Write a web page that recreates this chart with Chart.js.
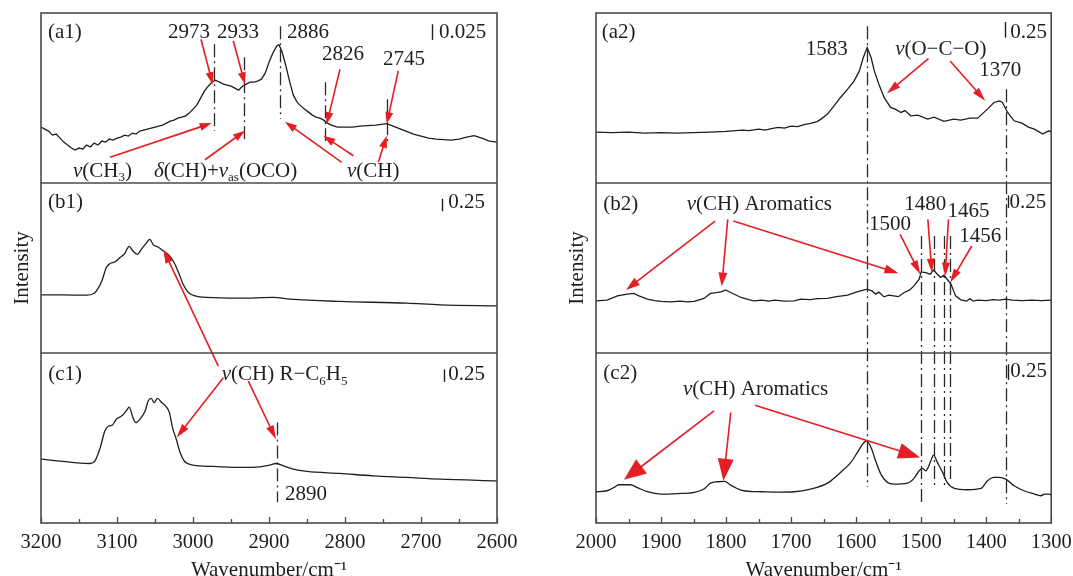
<!DOCTYPE html>
<html>
<head>
<meta charset="utf-8">
<script src="https://cdn.jsdelivr.net/npm/chart.js@4.4.0/dist/chart.umd.min.js"></script>
<style>
  html, body { margin: 0; padding: 0; background: #fff; overflow: hidden; }
  #wrap { position: relative; width: 1073px; height: 576px; overflow: hidden; }
  canvas { position: absolute; top: 0; }
</style>
</head>
<body>
<div id="wrap">
  <canvas id="leftPlot" width="530" height="576" style="left:0"></canvas>
  <canvas id="rightPlot" width="551" height="576" style="left:530px"></canvas>
</div>
<script>
// ---- C-H stretching region (left column) ----
const a1Wn = [3200,3195,3190,3185,3180,3175,3170,3165,3160,3155,3150,3145,3140,3135,3130,3125,3120,3115,3110,3105,3100,3095,3090,3085,3080,3075,3070,3065,3060,3055,3050,3045,3040,3035,3030,3025,3020,3015,3010,3005,3000,2995,2990,2985,2980,2975,2971,2965,2960,2955,2950,2945,2940,2935,2930,2925,2920,2915,2910,2905,2900,2895,2890,2887,2883,2878,2873,2868,2863,2858,2853,2848,2843,2838,2833,2828,2823,2818,2810,2800,2790,2780,2770,2760,2750,2745,2740,2730,2720,2710,2700,2690,2680,2670,2660,2650,2640,2630,2620,2610,2600];
const a1Int = [0.0896,0.0864,0.0832,0.0768,0.0784,0.0720,0.0656,0.0608,0.0560,0.0528,0.0560,0.0544,0.0608,0.0576,0.0640,0.0608,0.0672,0.0656,0.0704,0.0688,0.0720,0.0736,0.0768,0.0752,0.0800,0.0784,0.0832,0.0848,0.0864,0.0880,0.0896,0.0912,0.0928,0.0960,0.0992,0.1008,0.1040,0.1056,0.1072,0.1120,0.1184,0.1248,0.1360,0.1472,0.1552,0.1616,0.1648,0.1616,0.1584,0.1568,0.1552,0.1520,0.1488,0.1552,0.1584,0.1616,0.1616,0.1632,0.1664,0.1760,0.1936,0.2080,0.2192,0.2216,0.2112,0.1888,0.1632,0.1408,0.1296,0.1232,0.1184,0.1136,0.1088,0.1056,0.1040,0.1008,0.0960,0.0928,0.0896,0.0896,0.0896,0.0912,0.0920,0.0928,0.0944,0.0952,0.0928,0.0880,0.0832,0.0784,0.0752,0.0720,0.0704,0.0696,0.0688,0.0704,0.0736,0.0760,0.0720,0.0672,0.0656];

const b1Wn = [3200,3170,3140,3130,3127,3120,3114,3109,3103,3096,3090,3084,3079,3073,3068,3061,3057,3052,3046,3039,3033,3026,3019,3013,3006,2997,2982,2938,2894,2872,2807,2719,2675,2600];
const b1Int = [1.166,1.164,1.160,1.200,1.246,1.446,1.714,1.794,1.826,1.914,1.994,2.140,2.046,1.980,2.080,2.214,2.280,2.166,2.126,2.046,1.980,1.846,1.614,1.380,1.214,1.146,1.114,1.100,1.114,1.080,1.034,1.000,0.966,0.946];

const c1Wn = [3200,3135,3129,3122,3116,3111,3106,3101,3094,3088,3084,3079,3075,3070,3063,3059,3055,3051,3047,3041,3036,3031,3027,3022,3017,3011,3000,2973,2938,2912,2899,2891,2881,2868,2850,2807,2763,2719,2675,2600];
const c1Int = [1.280,1.194,1.246,1.514,1.846,1.946,1.966,2.080,2.146,2.246,2.326,2.114,2.014,2.080,2.246,2.446,2.500,2.414,2.500,2.414,2.346,2.214,1.914,1.680,1.414,1.234,1.160,1.134,1.114,1.126,1.160,1.194,1.146,1.080,1.034,0.994,0.946,0.914,0.880,0.846];

// ---- 2000-1300 cm-1 region (right column) ----
const a2Wn = [2000,1975,1950,1925,1900,1875,1850,1825,1800,1785,1775,1765,1750,1740,1730,1720,1710,1700,1690,1680,1670,1660,1654,1644,1634,1624,1613,1603,1595,1589,1583,1577,1572,1565,1557,1547,1540,1531,1525,1516,1505,1490,1480,1465,1450,1439,1425,1413,1398,1388,1380,1375,1367,1357,1345,1335,1326,1318,1313,1308,1303,1300];
const a2Int = [0.816,0.808,0.816,0.800,0.808,0.800,0.808,0.816,0.827,0.840,0.848,0.840,0.864,0.848,0.872,0.891,0.880,0.912,0.904,0.936,0.955,0.984,1.024,1.104,1.237,1.371,1.504,1.637,1.797,2.011,2.171,2.011,1.797,1.584,1.371,1.211,1.184,1.131,1.160,1.077,1.088,1.024,1.056,0.987,1.024,1.008,1.040,1.040,1.184,1.291,1.317,1.291,1.131,0.997,0.960,0.896,0.864,0.816,0.784,0.816,0.837,0.816];

const b2Wn = [2000,1983,1967,1952,1942,1934,1921,1910,1900,1885,1870,1860,1849,1834,1824,1815,1808,1801,1793,1777,1765,1757,1745,1735,1725,1710,1695,1685,1670,1660,1644,1630,1613,1600,1593,1583,1575,1570,1565,1557,1550,1542,1535,1526,1518,1511,1503,1500,1493,1486,1481,1475,1470,1465,1460,1454,1447,1439,1430,1425,1420,1413,1400,1390,1380,1370,1360,1345,1330,1315,1300];
const b2Int = [1.046,1.060,1.146,1.180,1.194,1.146,1.080,1.050,1.034,1.026,1.040,1.026,1.034,1.094,1.194,1.210,1.226,1.266,1.214,1.114,1.070,1.046,1.060,1.040,1.060,1.040,1.046,1.080,1.070,1.090,1.094,1.130,1.160,1.220,1.246,1.280,1.240,1.180,1.220,1.126,1.160,1.146,1.130,1.214,1.260,1.346,1.480,1.626,1.614,1.580,1.666,1.580,1.514,1.560,1.480,1.380,1.146,1.066,1.040,1.090,1.040,1.060,1.050,1.070,1.060,1.080,1.060,1.050,1.060,1.050,1.060];

const c2Wn = [2000,1983,1972,1965,1947,1937,1921,1900,1875,1849,1834,1824,1813,1802,1793,1777,1760,1747,1720,1695,1670,1644,1624,1608,1598,1590,1584,1577,1570,1562,1552,1542,1521,1511,1503,1498,1493,1485,1481,1475,1467,1460,1449,1429,1408,1398,1388,1380,1370,1357,1342,1326,1316,1310,1303,1300];
const c2Int = [0.501,0.517,0.571,0.613,0.613,0.571,0.501,0.464,0.472,0.491,0.544,0.640,0.661,0.667,0.608,0.528,0.504,0.501,0.496,0.501,0.544,0.640,0.811,0.971,1.131,1.264,1.317,1.211,0.997,0.784,0.651,0.624,0.640,0.715,0.837,0.875,0.837,0.997,1.088,0.971,0.811,0.651,0.555,0.533,0.555,0.677,0.731,0.731,0.704,0.597,0.517,0.464,0.437,0.464,0.464,0.448];

// panel y ranges (intensity units)
const leftRanges = { yA: 0.2725, yB: 3.41, yC: 3.41 };
const rightRanges = { yA: 2.725, yB: 3.41, yC: 2.725 };

// marker lines: [wavenumber, top axis, top value, bottom axis, bottom value]
const leftMarkers = [
  [2973, 'yA', 0.2224, 'yA', 0.0832],
  [2933, 'yA', 0.2016, 'yA', 0.0656],
  [2886, 'yA', 0.2512, 'yA', 0.1024],
  [2826, 'yA', 0.1616, 'yA', 0.0672],
  [2745, 'yA', 0.1344, 'yA', 0.0672],
  [2890, 'yC', 2.014, 'yC', 0.414]
];
const rightMarkers = [
  [1583, 'yA', 2.512, 'yC', 0.576],
  [1370, 'yA', 1.504, 'yC', 0.304],
  [1500, 'yB', 2.346, 'yC', 0.304],
  [1480, 'yB', 2.346, 'yC', 0.576],
  [1465, 'yB', 2.346, 'yC', 0.576],
  [1456, 'yB', 2.346, 'yC', 0.704]
];

// scale bars: [axis, wavenumber, top value, length]
const leftBars = [['yA', 2685.9, 0.2544, 0.025], ['yB', 2672.8, 3.094, 0.25], ['yC', 2669.3, 3.08, 0.25]];
const rightBars = [['yA', 1371, 2.581, 0.25], ['yB', 1366.8, 3.16, 0.25], ['yC', 1366.7, 2.544, 0.25]];

// arrows: [from axis, wn, value, to axis, wn, value, head length, head width]
const leftArrows = [
  ['yA', 2989.5, 0.2304, 'yA', 2974.1, 0.1584, 12, 8],
  ['yA', 2947.0, 0.2277, 'yA', 2931.6, 0.1584, 12, 8],
  ['yA', 2806.6, 0.1824, 'yA', 2824.1, 0.0944, 12, 8],
  ['yA', 2729.9, 0.1797, 'yA', 2745.1, 0.0944, 12, 8],
  ['yA', 3109.2, 0.0411, 'yA', 2975.4, 0.0960, 12, 8],
  ['yA', 2984.2, 0.0373, 'yA', 2931.6, 0.0837, 12, 8],
  ['yA', 2804.3, 0.0331, 'yA', 2878.9, 0.0981, 12, 8],
  ['yA', 2789.0, 0.0437, 'yA', 2828.5, 0.0757, 12, 8],
  ['yA', 2756.2, 0.0331, 'yA', 2745.1, 0.0757, 12, 8],
  ['yC', 2966.7, 3.146, 'yB', 3039.2, 2.080, 14, 8],
  ['yC', 2960.1, 2.914, 'yC', 3021.5, 1.714, 14, 8],
  ['yC', 2927.2, 2.846, 'yC', 2890.8, 1.680, 14, 8]
];
const rightArrows = [
  ['yA', 1488.7, 1.995, 'yA', 1552.8, 1.435, 14, 8],
  ['yA', 1455.4, 1.957, 'yA', 1401.5, 1.317, 14, 8],
  ['yB', 1816.9, 2.646, 'yB', 1953.8, 1.266, 14, 9],
  ['yB', 1797.4, 2.680, 'yB', 1806.7, 1.334, 14, 9],
  ['yB', 1788.8, 2.646, 'yB', 1534.9, 1.600, 14, 9],
  ['yB', 1532.3, 2.380, 'yB', 1501.5, 1.580, 14, 8],
  ['yB', 1489.7, 2.680, 'yB', 1483.5, 1.614, 14, 8],
  ['yB', 1458.0, 2.680, 'yB', 1463.1, 1.534, 14, 8],
  ['yB', 1422.2, 2.146, 'yB', 1455.4, 1.414, 14, 8],
  ['yC', 1818.5, 1.797, 'yC', 1956.9, 0.693, 22, 18],
  ['yC', 1792.8, 1.771, 'yC', 1804.1, 0.677, 22, 16],
  ['yC', 1755.4, 1.888, 'yC', 1501.5, 1.051, 22, 16]
];

// labels: [axis, wn, value, parts, align]; part flag 'i' = italic, 's' = subscript
const leftLabels = [
  ['yA', 3190.8, 0.2416, [['(a1)']], 'left'],
  ['yA', 3005.3, 0.2416, [['2973']], 'center'],
  ['yA', 2940.8, 0.2416, [['2933']], 'center'],
  ['yA', 2876.3, 0.2416, [['2886']], 'left'],
  ['yA', 2802.6, 0.2064, [['2826']], 'center'],
  ['yA', 2722.4, 0.1984, [['2745']], 'center'],
  ['yA', 2676.3, 0.2416, [['0.025']], 'left'],
  ['yA', 3157.9, 0.0192, [['ν', 'i'], ['(CH'], ['3', 's'], [')']], 'left'],
  ['yA', 3051.3, 0.0192, [['δ', 'i'], ['(CH)+'], ['ν', 'i'], ['as', 's'], ['(OCO)']], 'left'],
  ['yA', 2797.4, 0.0192, [['ν', 'i'], ['(CH)']], 'left'],
  ['yB', 3190.8, 3.014, [['(b1)']], 'left'],
  ['yB', 2664.1, 3.014, [['0.25']], 'left'],
  ['yC', 3190.4, 2.980, [['(c1)']], 'left'],
  ['yC', 2962.2, 2.980, [['ν', 'i'], ['(CH) R−C'], ['6', 's'], ['H'], ['5', 's']], 'left'],
  ['yC', 2879.0, 0.580, [['2890']], 'left'],
  ['yC', 2664.1, 2.980, [['0.25']], 'left']
];
const rightLabels = [
  ['yA', 1991.3, 2.411, [['(a2)']], 'left'],
  ['yA', 1645.0, 2.144, [['1583']], 'center'],
  ['yA', 1540.0, 2.144, [['ν', 'i'], ['(O−C−O)']], 'left'],
  ['yA', 1378.5, 1.797, [['1370']], 'center'],
  ['yA', 1363.0, 2.411, [['0.25']], 'left'],
  ['yB', 1988.7, 2.980, [['(b2)']], 'left'],
  ['yB', 1860.5, 2.980, [['ν', 'i'], ['(CH) Aromatics']], 'left'],
  ['yB', 1547.7, 2.580, [['1500']], 'center'],
  ['yB', 1493.8, 2.980, [['1480']], 'center'],
  ['yB', 1427.2, 2.846, [['1465']], 'center'],
  ['yB', 1409.2, 2.346, [['1456']], 'center'],
  ['yB', 1364.2, 3.014, [['0.25']], 'left'],
  ['yC', 1988.7, 2.400, [['(c2)']], 'left'],
  ['yC', 1866.2, 2.144, [['ν', 'i'], ['(CH) Aromatics']], 'left'],
  ['yC', 1363.0, 2.421, [['0.25']], 'left']
];

const SERIF = "'Liberation Serif', 'Times New Roman', serif";
const INK = '#1e1e1e';
const RED = '#e31e24';

function richText(ctx, x, y, parts, align) {
  const fontOf = p => (p[1] === 'i' ? 'italic ' : '') + (p[1] === 's' ? 13 : 21) + 'px ' + SERIF;
  let w = 0;
  parts.forEach(p => { ctx.font = fontOf(p); w += ctx.measureText(p[0]).width; });
  let cx = align === 'center' ? x - w / 2 : x;
  ctx.textAlign = 'left';
  ctx.textBaseline = 'middle';
  parts.forEach(p => {
    ctx.font = fontOf(p);
    ctx.fillText(p[0], cx, y + (p[1] === 's' ? 7 : 0));
    cx += ctx.measureText(p[0]).width;
  });
}

function arrow(ctx, x1, y1, x2, y2, len, wid) {
  const a = Math.atan2(y2 - y1, x2 - x1);
  const bx = x2 - len * Math.cos(a), by = y2 - len * Math.sin(a);
  ctx.beginPath();
  ctx.moveTo(x1, y1);
  ctx.lineTo(bx + Math.cos(a), by + Math.sin(a));
  ctx.stroke();
  ctx.beginPath();
  ctx.moveTo(x2, y2);
  ctx.lineTo(bx + wid / 2 * Math.sin(a), by - wid / 2 * Math.cos(a));
  ctx.lineTo(bx - wid / 2 * Math.sin(a), by + wid / 2 * Math.cos(a));
  ctx.closePath();
  ctx.fill();
}

// frame, inward ticks and all the annotation layers
function notesPlugin(markers, bars, arrows, labels) {
  return {
    id: 'notes',
    afterDraw(chart) {
      const {ctx, chartArea: area, scales} = chart;
      const x = scales.x;
      const P = (axis, wn, v) => [x.getPixelForValue(wn), scales[axis].getPixelForValue(v)];
      ctx.save();

      // marker lines
      ctx.strokeStyle = '#2a2a2a';
      ctx.lineWidth = 1.3;
      ctx.setLineDash([13, 4, 2, 4]);
      markers.forEach(m => {
        const [xp, y1] = P(m[1], m[0], m[2]);
        const y2 = scales[m[3]].getPixelForValue(m[4]);
        ctx.beginPath();
        ctx.moveTo(Math.round(xp) + 0.5, y1);
        ctx.lineTo(Math.round(xp) + 0.5, y2);
        ctx.stroke();
      });
      ctx.setLineDash([]);

      // scale bars
      ctx.strokeStyle = INK;
      ctx.lineWidth = 1.4;
      bars.forEach(b => {
        const [xp, y1] = P(b[0], b[1], b[2]);
        const y2 = scales[b[0]].getPixelForValue(b[2] - b[3]);
        ctx.beginPath();
        ctx.moveTo(Math.round(xp) + 0.5, y1);
        ctx.lineTo(Math.round(xp) + 0.5, y2);
        ctx.stroke();
      });

      // arrows
      ctx.strokeStyle = RED;
      ctx.fillStyle = RED;
      ctx.lineWidth = 1.6;
      arrows.forEach(a => {
        const [x1, y1] = P(a[0], a[1], a[2]);
        const [x2, y2] = P(a[3], a[4], a[5]);
        arrow(ctx, x1, y1, x2, y2, a[6], a[7]);
      });

      // labels
      ctx.fillStyle = INK;
      labels.forEach(l => {
        const [xp, yp] = P(l[0], l[1], l[2]);
        richText(ctx, xp, yp, l[3], l[4]);
      });

      // panel frames
      ctx.strokeStyle = '#4a4a4a';
      ctx.lineWidth = 1.6;
      ctx.strokeRect(area.left, area.top, area.right - area.left, area.bottom - area.top);
      ['yA', 'yB'].forEach(id => {
        const yb = scales[id].bottom;
        ctx.beginPath();
        ctx.moveTo(area.left, yb);
        ctx.lineTo(area.right, yb);
        ctx.stroke();
      });

      // inward tick marks on the bottom axis
      ctx.lineWidth = 1.3;
      x.ticks.forEach(t => {
        const xp = Math.round(x.getPixelForValue(t.value)) + 0.5;
        const len = t.value % 100 === 0 ? 6 : 4;
        ctx.beginPath();
        ctx.moveTo(xp, area.bottom);
        ctx.lineTo(xp, area.bottom - len);
        ctx.stroke();
      });
      ctx.restore();
    }
  };
}

function yAxis(max, withTitle) {
  return {
    type: 'linear', position: 'left', stack: 'panels', stackWeight: 1,
    min: 0, max: max,
    grid: { display: false, drawTicks: false }, border: { display: false },
    ticks: { display: false },
    title: {
      display: withTitle, text: 'Intensity', color: INK,
      font: { family: SERIF, size: 21 }, padding: { top: 4, bottom: 6.4 }
    }
  };
}

function makeChart(id, spectra, xMin, xMax, ranges, pad, notes) {
  return new Chart(document.getElementById(id), {
    type: 'line',
    data: {
      datasets: spectra.map(s => ({
        data: s.wn.map((w, i) => ({ x: w, y: s.int[i] })),
        yAxisID: s.axis,
        borderColor: INK,
        borderWidth: 1.3,
        pointRadius: 0,
        fill: false,
        tension: 0,
        cubicInterpolationMode: s.smooth ? 'monotone' : 'default'
      }))
    },
    options: {
      responsive: false,
      animation: false,
      layout: { padding: pad },
      plugins: { legend: { display: false }, tooltip: { enabled: false } },
      scales: {
        x: {
          type: 'linear', reverse: true, min: xMin, max: xMax,
          grid: { display: false, drawTicks: false }, border: { display: false },
          ticks: {
            stepSize: 50, autoSkip: false, maxRotation: 0, padding: 9.3, color: INK,
            font: { family: SERIF, size: 20.5, lineHeight: 1 },
            callback: v => (v % 100 === 0 ? String(v) : '')
          },
          title: {
            display: true, text: 'Wavenumber/cm⁻¹', color: INK,
            font: { family: SERIF, size: 21, lineHeight: 1 }, padding: { top: -2.1, bottom: -5 }
          }
        },
        // stacked panels: the last one listed sits on top
        yC: yAxis(ranges.yC, false),
        yB: yAxis(ranges.yB, true),
        yA: yAxis(ranges.yA, false)
      }
    },
    plugins: [notes]
  });
}

makeChart('leftPlot', [
  { wn: a1Wn, int: a1Int, axis: 'yA', smooth: false },
  { wn: b1Wn, int: b1Int, axis: 'yB', smooth: true },
  { wn: c1Wn, int: c1Int, axis: 'yC', smooth: true }
], 2600, 3200, leftRanges, { left: 5.4, right: 33, top: 13, bottom: 0 },
  notesPlugin(leftMarkers, leftBars, leftArrows, leftLabels));

// the right canvas runs a little past the page edge so the last tick label keeps its room
makeChart('rightPlot', [
  { wn: a2Wn, int: a2Int, axis: 'yA', smooth: false },
  { wn: b2Wn, int: b2Int, axis: 'yB', smooth: false },
  { wn: c2Wn, int: c2Int, axis: 'yC', smooth: true }
], 1300, 2000, rightRanges, { left: 30.4, right: 14, top: 13, bottom: 0 },
  notesPlugin(rightMarkers, rightBars, rightArrows, rightLabels));
</script>
</body>
</html>
